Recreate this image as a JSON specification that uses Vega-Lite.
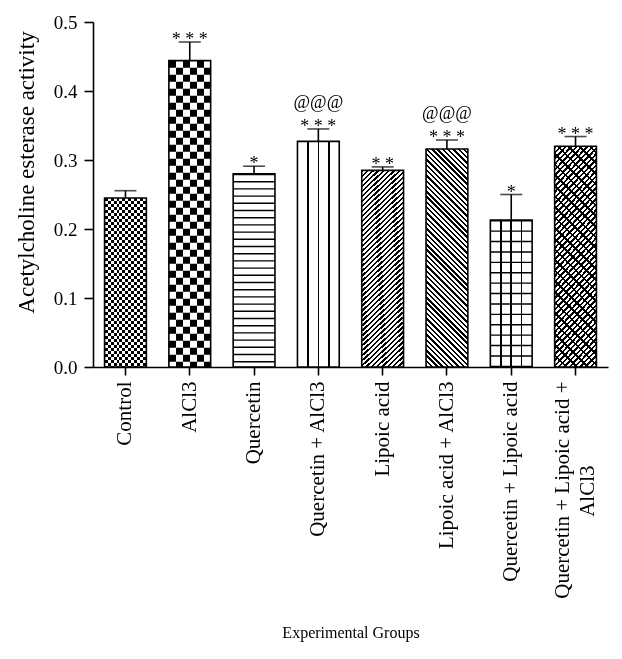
{
  "$schema": "https://vega.github.io/schema/vega-lite/v6.json",
  "width": 515,
  "height": 345,
  "autosize": {"type": "none"},
  "padding": {"left": 93, "top": 22, "right": 14, "bottom": 292},
  "background": "#ffffff",
  "data": {"values": [
    {"group": "Control", "mean": 0.245, "upper": 0.2555, "sig": "", "sig2": ""},
    {"group": "AlCl3", "mean": 0.444, "upper": 0.471, "sig": "* * *", "sig2": ""},
    {"group": "Quercetin", "mean": 0.280, "upper": 0.291, "sig": "*", "sig2": ""},
    {"group": "Quercetin + AlCl3", "mean": 0.327, "upper": 0.345, "sig": "* * *", "sig2": "@@@"},
    {"group": "Lipoic acid", "mean": 0.285, "upper": 0.290, "sig": "* *", "sig2": ""},
    {"group": "Lipoic acid + AlCl3", "mean": 0.316, "upper": 0.329, "sig": "* * *", "sig2": "@@@"},
    {"group": "Quercetin + Lipoic acid", "mean": 0.213, "upper": 0.250, "sig": "*", "sig2": ""},
    {"group": "Quercetin + Lipoic acid + AlCl3", "mean": 0.320, "upper": 0.334, "sig": "* * *", "sig2": ""}
  ]},
  "encoding": {
    "x": {
      "field": "group", "type": "nominal", "title": "Experimental Groups",
      "scale": {"domain": ["Control", "AlCl3", "Quercetin", "Quercetin + AlCl3", "Lipoic acid", "Lipoic acid + AlCl3", "Quercetin + Lipoic acid", "Quercetin + Lipoic acid + AlCl3"], "paddingInner": 0.35, "paddingOuter": 0.18},
      "axis": {
        "labelAngle": -90, "labelAlign": "right", "labelBaseline": "middle",
        "labelFontSize": 21, "labelPadding": 6, "labelLimit": 400, "labelOverlap": false, "labelLineHeight": 25,
        "labelOffset": {"condition": {"test": "datum.value == 'Quercetin + Lipoic acid + AlCl3'", "value": -12.5}, "value": 0},
        "tickSize": 8,
        "labelExpr": "datum.value == 'Quercetin + Lipoic acid + AlCl3' ? ['Quercetin + Lipoic acid +', 'AlCl3\u00a0\u00a0\u00a0\u00a0\u00a0\u00a0\u00a0\u00a0\u00a0\u00a0\u00a0\u00a0\u00a0\u00a0\u00a0\u00a0\u200b'] : datum.label",
        "titleFontSize": 16, "titleY": 265, "titleBaseline": "middle"
      }
    },
    "y": {
      "field": "mean", "type": "quantitative", "title": "Acetylcholine esterase activity",
      "scale": {"domain": [0, 0.5], "nice": false},
      "axis": {"values": [0, 0.1, 0.2, 0.3, 0.4, 0.5], "format": ".1f", "labelFontSize": 19, "labelPadding": 7, "tickSize": 9,
               "titleFontSize": 23, "titleX": -60, "titleY": 150, "titleBaseline": "alphabetic", "titleAlign": "center"}
    }
  },
  "layer": [
    {"transform": [{"filter": {"field": "group", "equal": "Control"}}],
     "mark": {"type": "bar", "strokeWidth": 0, "fill": {"gradient": "linear", "x1": 0, "y1": 0, "x2": 1, "y2": 0, "stops": [
       {"offset":0.0714,"color":"#fff"},{"offset":0.0714,"color":"#000"},{"offset":0.1429,"color":"#000"},{"offset":0.1429,"color":"#fff"},
       {"offset":0.2143,"color":"#fff"},{"offset":0.2143,"color":"#000"},{"offset":0.2857,"color":"#000"},{"offset":0.2857,"color":"#fff"},
       {"offset":0.3571,"color":"#fff"},{"offset":0.3571,"color":"#000"},{"offset":0.4286,"color":"#000"},{"offset":0.4286,"color":"#fff"},
       {"offset":0.5,"color":"#fff"},{"offset":0.5,"color":"#000"},{"offset":0.5714,"color":"#000"},{"offset":0.5714,"color":"#fff"},
       {"offset":0.6429,"color":"#fff"},{"offset":0.6429,"color":"#000"},{"offset":0.7143,"color":"#000"},{"offset":0.7143,"color":"#fff"},
       {"offset":0.7857,"color":"#fff"},{"offset":0.7857,"color":"#000"},{"offset":0.8571,"color":"#000"},{"offset":0.8571,"color":"#fff"},
       {"offset":0.9286,"color":"#fff"},{"offset":0.9286,"color":"#000"}]}}},
    {"transform": [{"filter": {"field": "group", "equal": "AlCl3"}}],
     "mark": {"type": "bar", "strokeWidth": 0, "fill": {"gradient": "linear", "x1": 0, "y1": 0, "x2": 1, "y2": 0, "stops": [
       {"offset":0.1667,"color":"#fff"},{"offset":0.1667,"color":"#000"},{"offset":0.3333,"color":"#000"},{"offset":0.3333,"color":"#fff"},
       {"offset":0.5,"color":"#fff"},{"offset":0.5,"color":"#000"},{"offset":0.6667,"color":"#000"},{"offset":0.6667,"color":"#fff"},
       {"offset":0.8333,"color":"#fff"},{"offset":0.8333,"color":"#000"}]}}},
    {"transform": [{"filter": {"field": "group", "oneOf": ["Quercetin + AlCl3", "Quercetin + Lipoic acid"]}}],
     "mark": {"type": "bar", "strokeWidth": 0, "fill": {"gradient": "linear", "x1": 0, "y1": 0, "x2": 1, "y2": 0, "stops": [
       {"offset":0.232,"color":"#fff"},{"offset":0.232,"color":"#000"},{"offset":0.268,"color":"#000"},{"offset":0.268,"color":"#fff"},
       {"offset":0.482,"color":"#fff"},{"offset":0.482,"color":"#000"},{"offset":0.518,"color":"#000"},{"offset":0.518,"color":"#fff"},
       {"offset":0.732,"color":"#fff"},{"offset":0.732,"color":"#000"},{"offset":0.768,"color":"#000"},{"offset":0.768,"color":"#fff"}]}}},
    {"transform": [{"filter": {"field": "group", "oneOf": ["Lipoic acid", "Quercetin + Lipoic acid + AlCl3"]}}],
     "mark": {"type": "bar", "strokeWidth": 0, "fill": {"gradient": "linear", "x1": 0, "y1": 0, "x2": 0.2438, "y2": 1.2192, "stops": [
        {"offset":0,"color":"#000"},{"offset":0.009,"color":"#000"},{"offset":0.009,"color":"#fff"},{"offset":0.02,"color":"#fff"},
        {"offset":0.02,"color":"#000"},{"offset":0.029,"color":"#000"},{"offset":0.029,"color":"#fff"},{"offset":0.04,"color":"#fff"},
        {"offset":0.04,"color":"#000"},{"offset":0.049,"color":"#000"},{"offset":0.049,"color":"#fff"},{"offset":0.06,"color":"#fff"},
        {"offset":0.06,"color":"#000"},{"offset":0.069,"color":"#000"},{"offset":0.069,"color":"#fff"},{"offset":0.08,"color":"#fff"},
        {"offset":0.08,"color":"#000"},{"offset":0.089,"color":"#000"},{"offset":0.089,"color":"#fff"},{"offset":0.1,"color":"#fff"},
        {"offset":0.1,"color":"#000"},{"offset":0.109,"color":"#000"},{"offset":0.109,"color":"#fff"},{"offset":0.12,"color":"#fff"},
        {"offset":0.12,"color":"#000"},{"offset":0.129,"color":"#000"},{"offset":0.129,"color":"#fff"},{"offset":0.14,"color":"#fff"},
        {"offset":0.14,"color":"#000"},{"offset":0.149,"color":"#000"},{"offset":0.149,"color":"#fff"},{"offset":0.16,"color":"#fff"},
        {"offset":0.16,"color":"#000"},{"offset":0.169,"color":"#000"},{"offset":0.169,"color":"#fff"},{"offset":0.18,"color":"#fff"},
        {"offset":0.18,"color":"#000"},{"offset":0.189,"color":"#000"},{"offset":0.189,"color":"#fff"},{"offset":0.2,"color":"#fff"},
        {"offset":0.2,"color":"#000"},{"offset":0.209,"color":"#000"},{"offset":0.209,"color":"#fff"},{"offset":0.22,"color":"#fff"},
        {"offset":0.22,"color":"#000"},{"offset":0.229,"color":"#000"},{"offset":0.229,"color":"#fff"},{"offset":0.24,"color":"#fff"},
        {"offset":0.24,"color":"#000"},{"offset":0.249,"color":"#000"},{"offset":0.249,"color":"#fff"},{"offset":0.26,"color":"#fff"},
        {"offset":0.26,"color":"#000"},{"offset":0.269,"color":"#000"},{"offset":0.269,"color":"#fff"},{"offset":0.28,"color":"#fff"},
        {"offset":0.28,"color":"#000"},{"offset":0.289,"color":"#000"},{"offset":0.289,"color":"#fff"},{"offset":0.3,"color":"#fff"},
        {"offset":0.3,"color":"#000"},{"offset":0.309,"color":"#000"},{"offset":0.309,"color":"#fff"},{"offset":0.32,"color":"#fff"},
        {"offset":0.32,"color":"#000"},{"offset":0.329,"color":"#000"},{"offset":0.329,"color":"#fff"},{"offset":0.34,"color":"#fff"},
        {"offset":0.34,"color":"#000"},{"offset":0.349,"color":"#000"},{"offset":0.349,"color":"#fff"},{"offset":0.36,"color":"#fff"},
        {"offset":0.36,"color":"#000"},{"offset":0.369,"color":"#000"},{"offset":0.369,"color":"#fff"},{"offset":0.38,"color":"#fff"},
        {"offset":0.38,"color":"#000"},{"offset":0.389,"color":"#000"},{"offset":0.389,"color":"#fff"},{"offset":0.4,"color":"#fff"},
        {"offset":0.4,"color":"#000"},{"offset":0.409,"color":"#000"},{"offset":0.409,"color":"#fff"},{"offset":0.42,"color":"#fff"},
        {"offset":0.42,"color":"#000"},{"offset":0.429,"color":"#000"},{"offset":0.429,"color":"#fff"},{"offset":0.44,"color":"#fff"},
        {"offset":0.44,"color":"#000"},{"offset":0.449,"color":"#000"},{"offset":0.449,"color":"#fff"},{"offset":0.46,"color":"#fff"},
        {"offset":0.46,"color":"#000"},{"offset":0.469,"color":"#000"},{"offset":0.469,"color":"#fff"},{"offset":0.48,"color":"#fff"},
        {"offset":0.48,"color":"#000"},{"offset":0.489,"color":"#000"},{"offset":0.489,"color":"#fff"},{"offset":0.5,"color":"#fff"},
        {"offset":0.5,"color":"#000"},{"offset":0.509,"color":"#000"},{"offset":0.509,"color":"#fff"},{"offset":0.52,"color":"#fff"},
        {"offset":0.52,"color":"#000"},{"offset":0.529,"color":"#000"},{"offset":0.529,"color":"#fff"},{"offset":0.54,"color":"#fff"},
        {"offset":0.54,"color":"#000"},{"offset":0.549,"color":"#000"},{"offset":0.549,"color":"#fff"},{"offset":0.56,"color":"#fff"},
        {"offset":0.56,"color":"#000"},{"offset":0.569,"color":"#000"},{"offset":0.569,"color":"#fff"},{"offset":0.58,"color":"#fff"},
        {"offset":0.58,"color":"#000"},{"offset":0.589,"color":"#000"},{"offset":0.589,"color":"#fff"},{"offset":0.6,"color":"#fff"},
        {"offset":0.6,"color":"#000"},{"offset":0.609,"color":"#000"},{"offset":0.609,"color":"#fff"},{"offset":0.62,"color":"#fff"},
        {"offset":0.62,"color":"#000"},{"offset":0.629,"color":"#000"},{"offset":0.629,"color":"#fff"},{"offset":0.64,"color":"#fff"},
        {"offset":0.64,"color":"#000"},{"offset":0.649,"color":"#000"},{"offset":0.649,"color":"#fff"},{"offset":0.66,"color":"#fff"},
        {"offset":0.66,"color":"#000"},{"offset":0.669,"color":"#000"},{"offset":0.669,"color":"#fff"},{"offset":0.68,"color":"#fff"},
        {"offset":0.68,"color":"#000"},{"offset":0.689,"color":"#000"},{"offset":0.689,"color":"#fff"},{"offset":0.7,"color":"#fff"},
        {"offset":0.7,"color":"#000"},{"offset":0.709,"color":"#000"},{"offset":0.709,"color":"#fff"},{"offset":0.72,"color":"#fff"},
        {"offset":0.72,"color":"#000"},{"offset":0.729,"color":"#000"},{"offset":0.729,"color":"#fff"},{"offset":0.74,"color":"#fff"},
        {"offset":0.74,"color":"#000"},{"offset":0.749,"color":"#000"},{"offset":0.749,"color":"#fff"},{"offset":0.76,"color":"#fff"},
        {"offset":0.76,"color":"#000"},{"offset":0.769,"color":"#000"},{"offset":0.769,"color":"#fff"},{"offset":0.78,"color":"#fff"},
        {"offset":0.78,"color":"#000"},{"offset":0.789,"color":"#000"},{"offset":0.789,"color":"#fff"},{"offset":0.8,"color":"#fff"},
        {"offset":0.8,"color":"#000"},{"offset":0.809,"color":"#000"},{"offset":0.809,"color":"#fff"},{"offset":0.82,"color":"#fff"},
        {"offset":0.82,"color":"#000"},{"offset":0.829,"color":"#000"},{"offset":0.829,"color":"#fff"},{"offset":0.84,"color":"#fff"},
        {"offset":0.84,"color":"#000"},{"offset":0.849,"color":"#000"},{"offset":0.849,"color":"#fff"},{"offset":0.86,"color":"#fff"},
        {"offset":0.86,"color":"#000"},{"offset":0.869,"color":"#000"},{"offset":0.869,"color":"#fff"},{"offset":0.88,"color":"#fff"},
        {"offset":0.88,"color":"#000"},{"offset":0.889,"color":"#000"},{"offset":0.889,"color":"#fff"},{"offset":0.9,"color":"#fff"},
        {"offset":0.9,"color":"#000"},{"offset":0.909,"color":"#000"},{"offset":0.909,"color":"#fff"},{"offset":0.92,"color":"#fff"},
        {"offset":0.92,"color":"#000"},{"offset":0.929,"color":"#000"},{"offset":0.929,"color":"#fff"},{"offset":0.94,"color":"#fff"},
        {"offset":0.94,"color":"#000"},{"offset":0.949,"color":"#000"},{"offset":0.949,"color":"#fff"}]}}},
    {"transform": [{"filter": {"field": "group", "equal": "Lipoic acid + AlCl3"}}],
     "mark": {"type": "bar", "strokeWidth": 0, "fill": {"gradient": "linear", "x1": 0, "y1": 1, "x2": 0.2248, "y2": -0.1725, "stops": [
        {"offset":0,"color":"#000"},{"offset":0.009,"color":"#000"},{"offset":0.009,"color":"#fff"},{"offset":0.02,"color":"#fff"},
        {"offset":0.02,"color":"#000"},{"offset":0.029,"color":"#000"},{"offset":0.029,"color":"#fff"},{"offset":0.04,"color":"#fff"},
        {"offset":0.04,"color":"#000"},{"offset":0.049,"color":"#000"},{"offset":0.049,"color":"#fff"},{"offset":0.06,"color":"#fff"},
        {"offset":0.06,"color":"#000"},{"offset":0.069,"color":"#000"},{"offset":0.069,"color":"#fff"},{"offset":0.08,"color":"#fff"},
        {"offset":0.08,"color":"#000"},{"offset":0.089,"color":"#000"},{"offset":0.089,"color":"#fff"},{"offset":0.1,"color":"#fff"},
        {"offset":0.1,"color":"#000"},{"offset":0.109,"color":"#000"},{"offset":0.109,"color":"#fff"},{"offset":0.12,"color":"#fff"},
        {"offset":0.12,"color":"#000"},{"offset":0.129,"color":"#000"},{"offset":0.129,"color":"#fff"},{"offset":0.14,"color":"#fff"},
        {"offset":0.14,"color":"#000"},{"offset":0.149,"color":"#000"},{"offset":0.149,"color":"#fff"},{"offset":0.16,"color":"#fff"},
        {"offset":0.16,"color":"#000"},{"offset":0.169,"color":"#000"},{"offset":0.169,"color":"#fff"},{"offset":0.18,"color":"#fff"},
        {"offset":0.18,"color":"#000"},{"offset":0.189,"color":"#000"},{"offset":0.189,"color":"#fff"},{"offset":0.2,"color":"#fff"},
        {"offset":0.2,"color":"#000"},{"offset":0.209,"color":"#000"},{"offset":0.209,"color":"#fff"},{"offset":0.22,"color":"#fff"},
        {"offset":0.22,"color":"#000"},{"offset":0.229,"color":"#000"},{"offset":0.229,"color":"#fff"},{"offset":0.24,"color":"#fff"},
        {"offset":0.24,"color":"#000"},{"offset":0.249,"color":"#000"},{"offset":0.249,"color":"#fff"},{"offset":0.26,"color":"#fff"},
        {"offset":0.26,"color":"#000"},{"offset":0.269,"color":"#000"},{"offset":0.269,"color":"#fff"},{"offset":0.28,"color":"#fff"},
        {"offset":0.28,"color":"#000"},{"offset":0.289,"color":"#000"},{"offset":0.289,"color":"#fff"},{"offset":0.3,"color":"#fff"},
        {"offset":0.3,"color":"#000"},{"offset":0.309,"color":"#000"},{"offset":0.309,"color":"#fff"},{"offset":0.32,"color":"#fff"},
        {"offset":0.32,"color":"#000"},{"offset":0.329,"color":"#000"},{"offset":0.329,"color":"#fff"},{"offset":0.34,"color":"#fff"},
        {"offset":0.34,"color":"#000"},{"offset":0.349,"color":"#000"},{"offset":0.349,"color":"#fff"},{"offset":0.36,"color":"#fff"},
        {"offset":0.36,"color":"#000"},{"offset":0.369,"color":"#000"},{"offset":0.369,"color":"#fff"},{"offset":0.38,"color":"#fff"},
        {"offset":0.38,"color":"#000"},{"offset":0.389,"color":"#000"},{"offset":0.389,"color":"#fff"},{"offset":0.4,"color":"#fff"},
        {"offset":0.4,"color":"#000"},{"offset":0.409,"color":"#000"},{"offset":0.409,"color":"#fff"},{"offset":0.42,"color":"#fff"},
        {"offset":0.42,"color":"#000"},{"offset":0.429,"color":"#000"},{"offset":0.429,"color":"#fff"},{"offset":0.44,"color":"#fff"},
        {"offset":0.44,"color":"#000"},{"offset":0.449,"color":"#000"},{"offset":0.449,"color":"#fff"},{"offset":0.46,"color":"#fff"},
        {"offset":0.46,"color":"#000"},{"offset":0.469,"color":"#000"},{"offset":0.469,"color":"#fff"},{"offset":0.48,"color":"#fff"},
        {"offset":0.48,"color":"#000"},{"offset":0.489,"color":"#000"},{"offset":0.489,"color":"#fff"},{"offset":0.5,"color":"#fff"},
        {"offset":0.5,"color":"#000"},{"offset":0.509,"color":"#000"},{"offset":0.509,"color":"#fff"},{"offset":0.52,"color":"#fff"},
        {"offset":0.52,"color":"#000"},{"offset":0.529,"color":"#000"},{"offset":0.529,"color":"#fff"},{"offset":0.54,"color":"#fff"},
        {"offset":0.54,"color":"#000"},{"offset":0.549,"color":"#000"},{"offset":0.549,"color":"#fff"},{"offset":0.56,"color":"#fff"},
        {"offset":0.56,"color":"#000"},{"offset":0.569,"color":"#000"},{"offset":0.569,"color":"#fff"},{"offset":0.58,"color":"#fff"},
        {"offset":0.58,"color":"#000"},{"offset":0.589,"color":"#000"},{"offset":0.589,"color":"#fff"},{"offset":0.6,"color":"#fff"},
        {"offset":0.6,"color":"#000"},{"offset":0.609,"color":"#000"},{"offset":0.609,"color":"#fff"},{"offset":0.62,"color":"#fff"},
        {"offset":0.62,"color":"#000"},{"offset":0.629,"color":"#000"},{"offset":0.629,"color":"#fff"},{"offset":0.64,"color":"#fff"},
        {"offset":0.64,"color":"#000"},{"offset":0.649,"color":"#000"},{"offset":0.649,"color":"#fff"},{"offset":0.66,"color":"#fff"},
        {"offset":0.66,"color":"#000"},{"offset":0.669,"color":"#000"},{"offset":0.669,"color":"#fff"},{"offset":0.68,"color":"#fff"},
        {"offset":0.68,"color":"#000"},{"offset":0.689,"color":"#000"},{"offset":0.689,"color":"#fff"},{"offset":0.7,"color":"#fff"},
        {"offset":0.7,"color":"#000"},{"offset":0.709,"color":"#000"},{"offset":0.709,"color":"#fff"},{"offset":0.72,"color":"#fff"},
        {"offset":0.72,"color":"#000"},{"offset":0.729,"color":"#000"},{"offset":0.729,"color":"#fff"},{"offset":0.74,"color":"#fff"},
        {"offset":0.74,"color":"#000"},{"offset":0.749,"color":"#000"},{"offset":0.749,"color":"#fff"},{"offset":0.76,"color":"#fff"},
        {"offset":0.76,"color":"#000"},{"offset":0.769,"color":"#000"},{"offset":0.769,"color":"#fff"},{"offset":0.78,"color":"#fff"},
        {"offset":0.78,"color":"#000"},{"offset":0.789,"color":"#000"},{"offset":0.789,"color":"#fff"},{"offset":0.8,"color":"#fff"},
        {"offset":0.8,"color":"#000"},{"offset":0.809,"color":"#000"},{"offset":0.809,"color":"#fff"},{"offset":0.82,"color":"#fff"},
        {"offset":0.82,"color":"#000"},{"offset":0.829,"color":"#000"},{"offset":0.829,"color":"#fff"},{"offset":0.84,"color":"#fff"},
        {"offset":0.84,"color":"#000"},{"offset":0.849,"color":"#000"},{"offset":0.849,"color":"#fff"},{"offset":0.86,"color":"#fff"},
        {"offset":0.86,"color":"#000"},{"offset":0.869,"color":"#000"},{"offset":0.869,"color":"#fff"},{"offset":0.88,"color":"#fff"},
        {"offset":0.88,"color":"#000"},{"offset":0.889,"color":"#000"},{"offset":0.889,"color":"#fff"},{"offset":0.9,"color":"#fff"},
        {"offset":0.9,"color":"#000"},{"offset":0.909,"color":"#000"},{"offset":0.909,"color":"#fff"},{"offset":0.92,"color":"#fff"},
        {"offset":0.92,"color":"#000"},{"offset":0.929,"color":"#000"},{"offset":0.929,"color":"#fff"},{"offset":0.94,"color":"#fff"},
        {"offset":0.94,"color":"#000"},{"offset":0.949,"color":"#000"},{"offset":0.949,"color":"#fff"},{"offset":0.96,"color":"#fff"},
        {"offset":0.96,"color":"#000"},{"offset":0.969,"color":"#000"},{"offset":0.969,"color":"#fff"},{"offset":0.98,"color":"#fff"},
        {"offset":0.98,"color":"#000"},{"offset":0.989,"color":"#000"},{"offset":0.989,"color":"#fff"}]}}},
    {"transform": [{"filter": {"field": "group", "equal": "Quercetin + Lipoic acid + AlCl3"}}],
     "mark": {"type": "bar", "strokeWidth": 0, "fill": {"gradient": "linear", "x1": 0, "y1": 1, "x2": 0.2193, "y2": -0.1587, "stops": [
        {"offset":0,"color":"#000"},{"offset":0.01,"color":"#000"},{"offset":0.01,"color":"transparent"},{"offset":0.04,"color":"transparent"},
        {"offset":0.04,"color":"#000"},{"offset":0.05,"color":"#000"},{"offset":0.05,"color":"transparent"},{"offset":0.08,"color":"transparent"},
        {"offset":0.08,"color":"#000"},{"offset":0.09,"color":"#000"},{"offset":0.09,"color":"transparent"},{"offset":0.12,"color":"transparent"},
        {"offset":0.12,"color":"#000"},{"offset":0.13,"color":"#000"},{"offset":0.13,"color":"transparent"},{"offset":0.16,"color":"transparent"},
        {"offset":0.16,"color":"#000"},{"offset":0.17,"color":"#000"},{"offset":0.17,"color":"transparent"},{"offset":0.2,"color":"transparent"},
        {"offset":0.2,"color":"#000"},{"offset":0.21,"color":"#000"},{"offset":0.21,"color":"transparent"},{"offset":0.24,"color":"transparent"},
        {"offset":0.24,"color":"#000"},{"offset":0.25,"color":"#000"},{"offset":0.25,"color":"transparent"},{"offset":0.28,"color":"transparent"},
        {"offset":0.28,"color":"#000"},{"offset":0.29,"color":"#000"},{"offset":0.29,"color":"transparent"},{"offset":0.32,"color":"transparent"},
        {"offset":0.32,"color":"#000"},{"offset":0.33,"color":"#000"},{"offset":0.33,"color":"transparent"},{"offset":0.36,"color":"transparent"},
        {"offset":0.36,"color":"#000"},{"offset":0.37,"color":"#000"},{"offset":0.37,"color":"transparent"},{"offset":0.4,"color":"transparent"},
        {"offset":0.4,"color":"#000"},{"offset":0.41,"color":"#000"},{"offset":0.41,"color":"transparent"},{"offset":0.44,"color":"transparent"},
        {"offset":0.44,"color":"#000"},{"offset":0.45,"color":"#000"},{"offset":0.45,"color":"transparent"},{"offset":0.48,"color":"transparent"},
        {"offset":0.48,"color":"#000"},{"offset":0.49,"color":"#000"},{"offset":0.49,"color":"transparent"},{"offset":0.52,"color":"transparent"},
        {"offset":0.52,"color":"#000"},{"offset":0.53,"color":"#000"},{"offset":0.53,"color":"transparent"},{"offset":0.56,"color":"transparent"},
        {"offset":0.56,"color":"#000"},{"offset":0.57,"color":"#000"},{"offset":0.57,"color":"transparent"},{"offset":0.6,"color":"transparent"},
        {"offset":0.6,"color":"#000"},{"offset":0.61,"color":"#000"},{"offset":0.61,"color":"transparent"},{"offset":0.64,"color":"transparent"},
        {"offset":0.64,"color":"#000"},{"offset":0.65,"color":"#000"},{"offset":0.65,"color":"transparent"},{"offset":0.68,"color":"transparent"},
        {"offset":0.68,"color":"#000"},{"offset":0.69,"color":"#000"},{"offset":0.69,"color":"transparent"},{"offset":0.72,"color":"transparent"},
        {"offset":0.72,"color":"#000"},{"offset":0.73,"color":"#000"},{"offset":0.73,"color":"transparent"},{"offset":0.76,"color":"transparent"},
        {"offset":0.76,"color":"#000"},{"offset":0.77,"color":"#000"},{"offset":0.77,"color":"transparent"},{"offset":0.8,"color":"transparent"},
        {"offset":0.8,"color":"#000"},{"offset":0.81,"color":"#000"},{"offset":0.81,"color":"transparent"},{"offset":0.84,"color":"transparent"},
        {"offset":0.84,"color":"#000"},{"offset":0.85,"color":"#000"},{"offset":0.85,"color":"transparent"},{"offset":0.88,"color":"transparent"},
        {"offset":0.88,"color":"#000"},{"offset":0.89,"color":"#000"},{"offset":0.89,"color":"transparent"},{"offset":0.92,"color":"transparent"},
        {"offset":0.92,"color":"#000"},{"offset":0.93,"color":"#000"},{"offset":0.93,"color":"transparent"},{"offset":0.96,"color":"transparent"},
        {"offset":0.96,"color":"#000"},{"offset":0.97,"color":"#000"},{"offset":0.97,"color":"transparent"}]}}},
    {"transform": [{"filter": {"field": "group", "equal": "Control"}}],
     "mark": {"type": "rule", "stroke": "#fff", "strokeWidth": 41.8, "strokeDash": [3, 3], "strokeCap": "butt", "blend": "difference"},
     "encoding": {"y2": {"datum": 0}}},
    {"transform": [{"filter": {"field": "group", "equal": "AlCl3"}}],
     "mark": {"type": "rule", "stroke": "#fff", "strokeWidth": 41.8, "strokeDash": [7, 7], "strokeCap": "butt", "blend": "difference"},
     "encoding": {"y2": {"datum": 0}}},
    {"transform": [{"filter": {"field": "group", "equal": "Quercetin"}}],
     "mark": {"type": "rule", "stroke": "#000", "strokeWidth": 41.8, "strokeDash": [1.4, 5.8], "strokeCap": "butt"},
     "encoding": {"y2": {"datum": 0}}},
    {"transform": [{"filter": {"field": "group", "equal": "Quercetin + Lipoic acid"}}],
     "mark": {"type": "rule", "stroke": "#000", "strokeWidth": 41.8, "strokeDash": [1.4, 9], "strokeCap": "butt"},
     "encoding": {"y2": {"datum": 0}}},
    {"mark": {"type": "bar", "fillOpacity": 0, "stroke": "#000", "strokeWidth": 1.6}},
    {"mark": {"type": "rule", "color": "#000", "strokeWidth": 1.6},
     "encoding": {"y2": {"field": "upper"}}},
    {"mark": {"type": "tick", "color": "#000", "thickness": 1.6, "size": 22},
     "encoding": {"y": {"field": "upper", "type": "quantitative", "title": "Acetylcholine esterase activity", "scale": {"domain": [0, 0.5], "nice": false},
       "axis": {"values": [0, 0.1, 0.2, 0.3, 0.4, 0.5], "format": ".1f", "labelFontSize": 19, "labelPadding": 7, "tickSize": 9,
               "titleFontSize": 23, "titleX": -60, "titleY": 150, "titleBaseline": "alphabetic", "titleAlign": "center"}}}},
    {"mark": {"type": "text", "font": "Liberation Serif", "fontSize": 18, "baseline": "alphabetic", "dy": 3, "color": "#000"},
     "encoding": {"y": {"field": "upper", "type": "quantitative", "title": "Acetylcholine esterase activity", "scale": {"domain": [0, 0.5], "nice": false},
       "axis": {"values": [0, 0.1, 0.2, 0.3, 0.4, 0.5], "format": ".1f", "labelFontSize": 19, "labelPadding": 7, "tickSize": 9,
               "titleFontSize": 23, "titleX": -60, "titleY": 150, "titleBaseline": "alphabetic", "titleAlign": "center"}}, "text": {"field": "sig"}}},
    {"mark": {"type": "text", "font": "Liberation Serif", "fontSize": 18, "baseline": "alphabetic", "dy": -21, "color": "#000"},
     "encoding": {"y": {"field": "upper", "type": "quantitative", "title": "Acetylcholine esterase activity", "scale": {"domain": [0, 0.5], "nice": false},
       "axis": {"values": [0, 0.1, 0.2, 0.3, 0.4, 0.5], "format": ".1f", "labelFontSize": 19, "labelPadding": 7, "tickSize": 9,
               "titleFontSize": 23, "titleX": -60, "titleY": 150, "titleBaseline": "alphabetic", "titleAlign": "center"}}, "text": {"field": "sig2"}}}
  ],
  "config": {
    "view": {"stroke": null},
    "axis": {"domainColor": "#000", "domainWidth": 1.6, "tickColor": "#000", "tickWidth": 1.6, "labelColor": "#000", "titleColor": "#000",
             "labelFont": "Liberation Serif", "titleFont": "Liberation Serif", "titleFontWeight": "normal", "grid": false}
  }
}
